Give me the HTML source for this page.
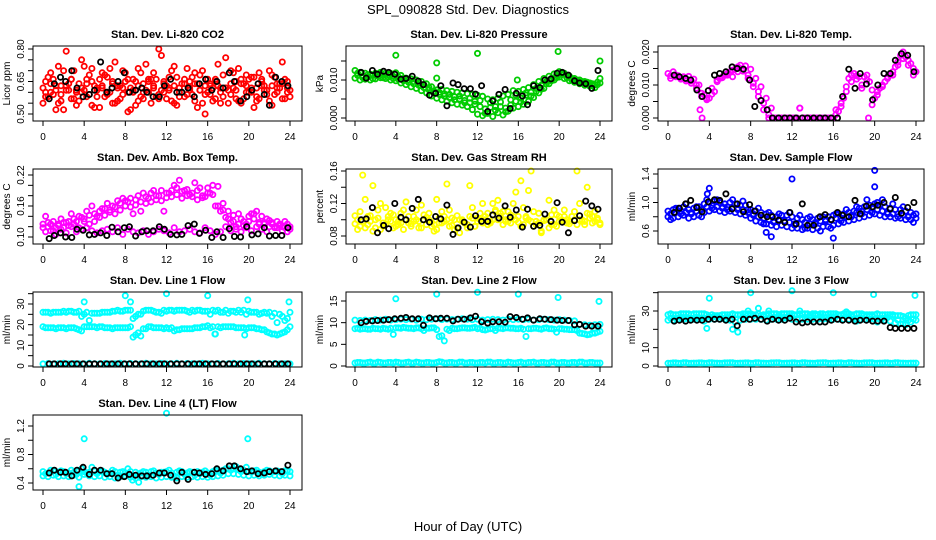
<!DOCTYPE html>
<html><head><meta charset="utf-8"><style>
html,body{margin:0;padding:0;background:#fff;}
svg{display:block;font-family:"Liberation Sans",Arial,sans-serif;}
</style></head><body>
<svg id="chart" width="936" height="540" viewBox="0 0 936 540">
<text x="468" y="14" text-anchor="middle" font-size="13">SPL_090828  Std. Dev. Diagnostics</text>
<text x="468" y="531" text-anchor="middle" font-size="13">Hour of Day (UTC)</text>
</svg>
<script>
const hA=[0,0.5,1,1.5,2,2.5,3,3.5,4,4.5,5,5.5,6,6.5,7,7.5,8,8.5,9,9.5,10,10.5,11,11.5,12,12.5,13,13.5,14,14.5,15,15.5,16,16.5,17,17.5,18,18.5,19,19.5,20,20.5,21,21.5,22,22.5,23,23.5,24];
const hB=[0.25,0.75,1.25,1.75,2.25,2.75,3.25,3.75,4.25,4.75,5.25,5.75,6.25,6.75,7.25,7.75,8.25,8.75,9.25,9.75,10.25,10.75,11.25,11.75,12.25,12.75,13.25,13.75,14.25,14.75,15.25,15.75,16.25,16.75,17.25,17.75,18.25,18.75,19.25,19.75,20.25,20.75,21.25,21.75,22.25,22.75,23.25,23.75];
const hK=[0.6,1.1,1.7,2.2,2.8,3.3,3.9,4.5,5.0,5.6,6.2,6.7,7.3,7.9,8.4,9.0,9.6,10.1,10.7,11.3,11.8,12.4,13.0,13.5,14.1,14.7,15.2,15.8,16.4,16.9,17.5,18.1,18.6,19.2,19.8,20.3,20.9,21.5,22.0,22.6,23.2,23.8];

const co2R1=[0.62,0.58,0.66,0.55,0.70,0.61,0.57,0.64,0.72,0.59,0.63,0.53,0.68,0.60,0.74,0.57,0.65,0.62,0.54,0.69,0.61,0.66,0.58,0.77,0.63,0.56,0.67,0.60,0.71,0.59,0.64,0.55,0.66,0.62,0.73,0.58,0.61,0.69,0.56,0.64,0.60,0.67,0.57,0.63,0.70,0.59,0.62,0.66,0.58];
const co2R2=[0.55,0.67,0.59,0.72,0.52,0.64,0.70,0.56,0.61,0.68,0.53,0.66,0.58,0.71,0.55,0.63,0.69,0.52,0.65,0.58,0.73,0.55,0.66,0.61,0.57,0.70,0.54,0.64,0.59,0.67,0.53,0.70,0.60,0.56,0.63,0.68,0.55,0.62,0.71,0.57,0.66,0.53,0.69,0.61,0.56,0.67,0.64,0.57,0.61];
const co2R3=[0.65,0.60,0.52,0.63,0.79,0.57,0.61,0.75,0.66,0.54,0.62,0.69,0.59,0.65,0.56,0.62,0.51,0.60,0.71,0.57,0.66,0.63,0.80,0.60,0.67,0.55,0.62,0.58,0.65,0.69,0.61,0.50,0.64,0.57,0.62,0.76,0.59,0.65,0.55,0.68,0.62,0.58,0.66,0.61,0.54,0.64,0.74,0.60];
const co2R4=[0.58,0.69,0.63,0.56,0.61,0.66,0.54,0.60,0.64,0.71,0.58,0.62,0.67,0.55,0.63,0.70,0.60,0.66,0.56,0.64,0.60,0.69,0.57,0.65,0.62,0.72,0.58,0.64,0.61,0.56,0.68,0.63,0.59,0.66,0.55,0.62,0.70,0.57,0.64,0.60,0.67,0.56,0.63,0.59,0.68,0.62,0.57,0.65];
const co2R5=[0.60,0.64,0.61,0.59,0.63,0.66,0.60,0.62,0.58,0.65,0.61,0.63,0.60,0.64,0.62,0.59,0.66,0.61,0.63,0.60,0.65,0.62,0.59,0.64,0.61,0.63,0.60,0.66,0.62,0.64,0.61,0.59,0.63,0.65,0.60,0.62,0.64,0.61,0.66,0.63,0.60,0.62,0.65,0.61,0.63,0.60,0.64,0.62];
const co2K=[0.57,0.64,0.67,0.65,0.70,0.62,0.58,0.59,0.61,0.74,0.60,0.62,0.65,0.69,0.60,0.61,0.62,0.60,0.58,0.58,0.63,0.66,0.60,0.60,0.62,0.58,0.64,0.66,0.61,0.65,0.62,0.69,0.65,0.56,0.58,0.61,0.64,0.59,0.54,0.67,0.65,0.63];

const prG1=[0.0125,0.012,0.0118,0.0115,0.0118,0.012,0.0118,0.0117,0.0119,0.0112,0.0105,0.0103,0.0100,0.0096,0.0090,0.0082,0.0074,0.0075,0.0072,0.0070,0.0068,0.0066,0.0064,0.0062,0.0060,0.0057,0.0050,0.0048,0.0052,0.0058,0.0062,0.0072,0.0070,0.0075,0.0080,0.0088,0.0096,0.0104,0.0110,0.0116,0.0122,0.0118,0.0110,0.0104,0.0100,0.0096,0.0092,0.0088,0.0104];
const prG2=[0.0105,0.0100,0.0102,0.0100,0.0103,0.0106,0.0104,0.0100,0.0098,0.0092,0.0088,0.0082,0.0078,0.0072,0.0066,0.0058,0.0052,0.0048,0.0044,0.0040,0.0036,0.0034,0.0030,0.0022,0.0010,0.0006,0.0012,0.0004,0.0014,0.0008,0.0018,0.0026,0.0030,0.0036,0.0044,0.0054,0.0066,0.0078,0.0090,0.0100,0.0108,0.0104,0.0098,0.0094,0.0090,0.0086,0.0084,0.0080,0.0092];
const prG3=[0.0112,0.0110,0.0108,0.0112,0.0110,0.0112,0.0108,0.0110,0.0102,0.0098,0.0094,0.0090,0.0086,0.0080,0.0074,0.0066,0.0062,0.0058,0.0054,0.0056,0.0050,0.0046,0.0040,0.0036,0.0030,0.0024,0.0028,0.0020,0.0030,0.0026,0.0034,0.0044,0.0052,0.0060,0.0068,0.0078,0.0086,0.0096,0.0104,0.0112,0.0114,0.0106,0.0100,0.0096,0.0092,0.0090,0.0086,0.0094];
const prG4=[0.0118,0.0106,0.0114,0.0104,0.0116,0.0106,0.0114,0.0104,0.0108,0.0104,0.0100,0.0096,0.0092,0.0088,0.0080,0.0070,0.0068,0.0064,0.0062,0.0048,0.0058,0.0040,0.0052,0.0044,0.0046,0.0012,0.0040,0.0030,0.0042,0.0016,0.0048,0.0060,0.0042,0.0066,0.0058,0.0070,0.0076,0.0090,0.0098,0.0106,0.0118,0.0112,0.0104,0.0100,0.0096,0.0094,0.0090,0.0088];
const prOutX=[4.0,8.0,12.0,19.9,24.0,8.0,15.9];
const prOutY=[0.0165,0.0145,0.0170,0.0175,0.0150,0.0105,0.0100];
const prK=[0.0120,0.0105,0.0125,0.0115,0.0123,0.0120,0.0115,0.0102,0.0104,0.0110,0.0097,0.0088,0.0060,0.0065,0.0085,0.0032,0.0092,0.0088,0.0077,0.0077,0.0063,0.0085,0.0017,0.0045,0.0062,0.0075,0.0025,0.0065,0.0058,0.0035,0.0085,0.0080,0.0100,0.0103,0.0118,0.0120,0.0113,0.0098,0.0092,0.0090,0.0078,0.0125];

const tmM1=[0.0135,0.0140,0.0128,0.0125,0.0126,0.0118,0.0100,0.0070,0.0060,0.0080,0.0120,0.0130,0.0140,0.0148,0.0160,0.0158,0.0148,0.0120,0.0095,0.0060,0.0030,0,0,0,0,0,0,0,0,0,0,0,0,0.0020,0.0060,0.0120,0.0135,0.0125,0.0125,0.0110,0.0060,0.0090,0.0110,0.0130,0.0155,0.0190,0.0185,0.0165,0.0140];
const tmM2=[0.0128,0.0125,0.0120,0.0118,0.0112,0.0100,0.0075,0.0055,0.0072,0.0110,0.0125,0.0135,0.0145,0.0155,0.0150,0.0130,0.0105,0.0080,0.0045,0,0,0,0,0,0,0.0030,0,0,0,0,0,0,0.0025,0.0045,0.0095,0.0130,0.0128,0.0100,0.0130,0.0085,0.0070,0.0100,0.0120,0.0140,0.0170,0.0200,0.0175,0.0150];
const tmM3=[0.0120,0.0130,0.0118,0.0112,0.0105,0.0090,0.0065,0.0060,0.0090,0.0115,0.0122,0.0130,0.0125,0.0140,0.0142,0.0120,0.0095,0.0065,0.0025,0.0010,0,0,0,0,0,0.0030,0,0,0,0,0,0,0.0010,0.0035,0.0080,0.0110,0.0118,0.0090,0.0115,0.0040,0.0080,0.0095,0.0125,0.0130,0.0160,0.0180,0.0160,0.0130];
const tmOutX=[3.3,19.4,3.1];
const tmOutY=[0,0,0.0025];
const tmK=[0.0130,0.0125,0.0120,0.0115,0.0085,0.0065,0.0083,0.0130,0.0135,0.0140,0.0155,0.0150,0.0148,0.0115,0.0035,0.0053,0.0025,0,0,0,0,0,0,0,0,0,0,0,0,0.0065,0.0148,0.0090,0.0135,0.0103,0.0055,0.0100,0.0135,0.0135,0.0175,0.0195,0.0190,0.0140];

const abM1=[0.125,0.120,0.130,0.122,0.128,0.130,0.135,0.140,0.130,0.142,0.145,0.150,0.155,0.152,0.158,0.165,0.170,0.175,0.172,0.168,0.178,0.185,0.180,0.190,0.185,0.190,0.195,0.188,0.192,0.185,0.190,0.180,0.195,0.200,0.198,0.165,0.150,0.142,0.145,0.130,0.140,0.145,0.128,0.125,0.132,0.120,0.125,0.118,0.115];
const abM2=[0.110,0.112,0.105,0.115,0.108,0.120,0.110,0.115,0.118,0.112,0.108,0.112,0.115,0.110,0.118,0.105,0.115,0.110,0.108,0.112,0.105,0.110,0.115,0.112,0.108,0.118,0.110,0.112,0.115,0.110,0.108,0.118,0.112,0.105,0.110,0.120,0.112,0.115,0.110,0.118,0.112,0.120,0.115,0.110,0.125,0.118,0.112,0.110];
const abM3=[0.140,0.125,0.118,0.135,0.128,0.145,0.130,0.138,0.150,0.160,0.140,0.155,0.165,0.160,0.170,0.175,0.168,0.145,0.180,0.185,0.175,0.190,0.180,0.150,0.185,0.200,0.210,0.190,0.182,0.205,0.195,0.178,0.185,0.160,0.150,0.138,0.128,0.120,0.135,0.125,0.145,0.150,0.140,0.135,0.128,0.130,0.120,0.125];
const abM4=[0.118,0.128,0.112,0.125,0.118,0.122,0.125,0.118,0.135,0.125,0.130,0.138,0.142,0.148,0.145,0.152,0.160,0.158,0.162,0.150,0.165,0.168,0.172,0.170,0.176,0.178,0.182,0.175,0.180,0.178,0.172,0.176,0.185,0.182,0.160,0.152,0.135,0.130,0.125,0.122,0.130,0.135,0.125,0.128,0.120,0.118,0.122,0.130,0.120];
const abK=[0.097,0.103,0.108,0.100,0.099,0.115,0.113,0.104,0.105,0.108,0.103,0.119,0.110,0.118,0.120,0.102,0.110,0.112,0.112,0.120,0.115,0.105,0.104,0.105,0.122,0.125,0.107,0.113,0.099,0.110,0.099,0.116,0.101,0.100,0.120,0.104,0.106,0.118,0.102,0.103,0.103,0.118];

const rhY1=[0.095,0.110,0.090,0.105,0.100,0.088,0.115,0.098,0.092,0.108,0.100,0.095,0.112,0.090,0.103,0.097,0.088,0.110,0.100,0.093,0.105,0.098,0.090,0.115,0.102,0.096,0.108,0.120,0.100,0.094,0.110,0.104,0.097,0.115,0.100,0.092,0.108,0.099,0.090,0.112,0.098,0.104,0.095,0.110,0.100,0.094,0.107,0.098,0.096];
const rhY2=[0.105,0.092,0.125,0.098,0.090,0.120,0.094,0.108,0.100,0.096,0.122,0.092,0.100,0.118,0.094,0.092,0.125,0.096,0.144,0.102,0.090,0.100,0.094,0.102,0.098,0.120,0.094,0.100,0.124,0.110,0.098,0.120,0.104,0.094,0.136,0.110,0.096,0.100,0.124,0.094,0.104,0.112,0.098,0.100,0.120,0.098,0.102,0.110,0.094];
const rhY3=[0.100,0.155,0.094,0.142,0.102,0.096,0.104,0.090,0.098,0.112,0.096,0.104,0.098,0.100,0.108,0.094,0.102,0.098,0.112,0.088,0.100,0.096,0.142,0.092,0.100,0.104,0.098,0.112,0.108,0.100,0.096,0.134,0.148,0.102,0.160,0.098,0.086,0.100,0.094,0.106,0.098,0.100,0.104,0.160,0.098,0.140,0.104,0.100];
const rhY4=[0.088,0.098,0.104,0.086,0.112,0.092,0.100,0.106,0.094,0.088,0.104,0.098,0.090,0.106,0.100,0.086,0.096,0.104,0.092,0.100,0.084,0.096,0.104,0.092,0.108,0.100,0.096,0.110,0.104,0.098,0.106,0.100,0.092,0.104,0.098,0.094,0.084,0.100,0.106,0.092,0.100,0.096,0.104,0.094,0.100,0.108,0.096,0.102];
const rhK=[0.100,0.101,0.115,0.084,0.093,0.089,0.120,0.103,0.100,0.114,0.125,0.100,0.097,0.104,0.101,0.118,0.082,0.090,0.097,0.091,0.105,0.098,0.098,0.106,0.102,0.117,0.103,0.112,0.091,0.113,0.092,0.093,0.107,0.098,0.121,0.097,0.084,0.099,0.105,0.123,0.117,0.113];

const sfB1=[0.88,0.90,0.92,0.94,0.90,0.92,0.94,0.98,1.00,1.02,1.00,0.98,1.00,0.98,0.96,0.96,0.90,0.88,0.86,0.84,0.82,0.80,0.82,0.82,0.80,0.78,0.76,0.78,0.76,0.78,0.80,0.80,0.82,0.84,0.84,0.86,0.88,0.92,0.94,0.96,0.98,0.96,0.94,0.92,0.90,0.90,0.88,0.86,0.84];
const sfB2=[0.80,0.78,0.80,0.82,0.78,0.80,0.82,0.86,0.88,0.90,0.88,0.86,0.88,0.86,0.84,0.82,0.78,0.74,0.72,0.70,0.68,0.66,0.68,0.66,0.64,0.64,0.62,0.64,0.62,0.64,0.66,0.66,0.68,0.70,0.72,0.74,0.76,0.78,0.80,0.82,0.84,0.82,0.80,0.80,0.78,0.78,0.76,0.76,0.78];
const sfB3=[0.84,0.86,0.88,0.86,0.84,0.88,0.90,0.94,0.96,0.94,0.92,0.94,0.92,0.90,0.90,0.86,0.82,0.80,0.78,0.76,0.74,0.76,0.74,0.72,0.70,0.70,0.72,0.70,0.72,0.74,0.74,0.76,0.78,0.78,0.80,0.82,0.86,0.88,0.90,0.92,0.90,0.88,0.86,0.84,0.84,0.82,0.80,0.82];
const sfB4=[0.76,0.92,0.84,0.98,0.86,0.94,0.80,1.04,0.92,1.04,0.94,0.90,1.04,0.92,1.02,0.90,0.84,0.92,0.70,0.86,0.72,0.84,0.74,0.86,0.68,0.82,0.64,0.80,0.70,0.60,0.76,0.64,0.84,0.74,0.90,0.80,0.94,0.84,1.04,0.86,1.00,1.04,0.84,0.98,0.80,0.94,0.80,0.72];
const sfOutX=[12.0,20.0,20.0,4.0,16.0,10.0,9.5,3.8];
const sfOutY=[1.33,1.45,1.22,1.20,0.50,0.52,0.58,1.12];
const sfK=[0.86,0.92,0.98,1.03,0.93,0.87,1.01,1.04,1.03,1.12,0.91,0.98,0.87,0.97,0.88,0.82,0.80,0.80,0.75,0.72,0.86,0.70,0.98,0.68,0.68,0.80,0.83,0.76,0.86,0.82,0.80,1.03,0.84,0.95,0.94,0.96,1.00,0.91,1.07,0.85,0.93,1.00];

const l1UpA=[26,26,26,26,26.5,26.5,26,26.5,25,22,25.5,25.5,26,26,26.5,26.5,27,27,24,25,27,27,26,25.5,26.5,27,27,27,26.5,27,27,26.5,26.5,27,27,26,25.5,26.5,27,27,26.5,26,25,26,26,25.5,25,22,26];
const l1UpB=[26,25.5,26,26,26,26.5,26,24,26,25.5,25.5,26,26,26.5,27,26.5,27,23,25,26.5,27,26.5,26,27,27,26.5,27,27,26,26.5,27,26.5,25,26.5,26,27,26.5,26,26,25,26,26,25.5,25.5,24,21,24,23];
const l1LoA=[19,18.5,18.5,18.5,18.5,18.5,18.5,17.5,19,19,19,19,18.5,18.5,18.5,18.5,18.5,19,15,14.5,18,19,18.5,18.5,18.5,18.5,17.5,18,18,18,18.5,19,19.5,19,19,19,19,19,18.5,18.5,18.5,18.5,18,17.5,16,15.5,15.5,16.5,19];
const l1LoB=[18.5,18.5,18,18.5,18,18.5,18,17,19,19,18.5,19,18.5,18,18.5,18.5,18.5,14,16,18,19,18.5,18.5,18,18,17,17.5,18,18,18.5,18.5,19,18.5,15.5,18.5,19,19,18.5,18.5,18,18.5,18,17.5,16.5,15.5,15,16,17.5];
const l1BotA=[1.0,1.2,1.0,1.1,1.3,1.0,1.2,1.1,1.0,1.3,1.1,1.0,1.2,1.0,1.1,1.3,1.0,1.2,1.1,1.0,1.3,1.1,1.0,1.2,1.0,1.1,1.3,1.0,1.2,1.1,1.0,1.3,1.1,1.0,1.2,1.0,1.1,1.3,1.0,1.2,1.1,1.0,1.3,1.1,1.0,1.2,1.0,1.1,1.0];
const l1OutX=[4.0,8.0,8.5,12.0,16.0,19.9,23.9,19.6,16.7];
const l1OutY=[31,34,31,35,34,32,31,15,15.5];
const l1K=[1,1,1,1,1,1,1,1,1,1,1,1,1,1,1,1,1,1,1,1,1,1,1,1,1,1,1,1,1,1,1,1,1,1,1,1,1,1,1,1,1,1];

const l2UpA=[10.6,10.5,10.6,10.5,10.7,10.6,10.8,10.6,10.7,10.8,10.7,10.8,10.6,10.8,10.7,10.8,10.9,10.7,10.8,10.7,10.8,10.9,10.8,10.7,10.8,10.6,10.7,10.8,10.7,10.6,10.8,10.7,10.8,10.7,10.8,10.6,10.7,10.8,10.7,10.6,10.7,10.6,10.5,10.4,9.6,9.5,9.4,9.5,9.6];
const l2LoA=[8.6,8.5,8.6,8.5,8.6,8.5,8.6,8.7,8.8,8.7,8.8,8.7,8.8,8.6,8.7,8.8,8.4,7.0,8.5,8.7,8.6,8.8,8.7,8.8,8.6,8.4,8.5,8.6,8.7,8.6,8.8,8.7,8.6,8.5,8.6,8.7,8.6,8.7,8.6,8.5,8.6,8.5,8.4,8.4,7.6,7.4,7.3,7.6,8.0];
const l2LoB=[8.7,8.6,8.5,8.7,8.6,8.7,8.5,7.3,8.8,8.9,8.7,8.6,8.8,8.2,8.7,8.8,6.8,5.8,8.2,8.6,8.7,8.8,8.7,8.9,8.7,8.3,8.6,8.2,8.7,8.8,8.7,8.6,8.7,6.8,8.6,8.7,8.5,8.8,8.6,7.8,8.6,8.5,8.4,8.2,7.5,7.2,7.6,7.8];
const l2BotA=[0.7,0.8,0.7,0.9,0.7,0.8,0.7,0.8,0.9,0.7,0.8,0.7,0.9,0.7,0.8,0.7,0.8,0.9,0.7,0.8,0.7,0.9,0.7,0.8,0.7,0.8,0.9,0.7,0.8,0.7,0.9,0.7,0.8,0.7,0.8,0.9,0.7,0.8,0.7,0.9,0.7,0.8,0.7,0.8,0.9,0.7,0.8,0.7,0.7];
const l2BotB=[0.8,0.7,0.8,0.7,0.9,0.7,0.8,0.7,0.8,0.7,0.9,0.7,0.8,0.7,0.8,0.7,1.0,0.7,0.8,0.7,0.9,0.7,0.8,0.7,0.8,0.7,0.9,0.7,0.8,0.7,0.8,0.7,0.9,0.7,0.8,0.7,0.8,0.7,0.9,0.7,0.8,0.7,0.8,0.7,0.9,0.7,0.8,0.7];
const l2OutX=[4.0,8.0,12.0,16.0,19.9,23.9];
const l2OutY=[15.5,16.6,17.0,16.6,15.8,14.9];
const l2K=[10.0,10.3,10.4,10.5,10.6,10.7,10.9,11.0,11.2,10.9,10.9,9.4,11.1,10.9,11.0,11.0,10.4,10.8,10.8,11.1,11.5,10.2,9.9,10.2,10.2,10.1,11.4,11.2,10.8,11.1,10.6,10.9,10.8,10.7,10.6,10.5,10.5,9.5,9.6,9.2,9.2,9.2];

const l3UpA=[28,28,28,28.5,28.5,28.5,28.5,28.5,27,27.5,27.5,28,28,28,28,28.5,28.5,28,27.5,28,28.5,28.5,28.5,28.5,28.5,28,28.5,28.5,28.5,28,28.5,28.5,28.5,28,28.5,28.5,28,28.5,28,28,28,28,28,28,27.5,27.5,26,28,28];
const l3UpB=[28.5,28,28.5,28.5,28,28.5,28.5,28,28,27.5,28,28,28.5,28,28.5,28.5,28,28.5,28,28.5,28.5,28,28.5,28.5,28,28.5,28.5,28,28.5,28.5,28,28.5,28.5,28,28.5,28,28.5,28.5,28,28,28.5,28,28,28,27.5,27,27.5,28];
const l3MidA=[25,25,25.5,25.5,25.5,25.5,25.5,24.5,25.5,25.5,25.5,25.5,25,24,25,25.5,25.5,25.5,25.5,25,25.5,25.5,25.5,26,25.5,25.5,25.5,25.5,25.5,25.5,25.5,25.5,25.5,25.5,25.5,25.5,25.5,25,25.5,25.5,25.5,25.5,25,24.5,23.5,23,22.5,24,25];
const l3MidB=[26,26,26.5,26.5,26,26.5,26,20.5,26.5,26.5,26,26.5,20,18.5,27,30,27.5,31.5,27,30,26.5,27,26.5,27,27.5,30,26.5,27,27.5,27,26.5,27,27,27.5,29.5,27,24.5,27.5,27,27,24,26,26.5,27,25,23,25,25.5];
const l3BotA=[1.5,1.7,1.5,1.8,1.5,1.6,1.7,1.5,1.8,1.6,1.5,1.7,1.8,1.5,1.6,1.7,1.5,1.8,1.6,1.5,1.7,1.8,1.5,1.6,1.7,1.5,1.8,1.6,1.5,1.7,1.8,1.5,1.6,1.7,1.5,1.8,1.6,1.5,1.7,1.8,1.5,1.6,1.7,1.5,1.8,1.6,1.5,1.6,1.6];
const l3OutX=[4.0,8.0,12.0,16.0,19.9,23.9];
const l3OutY=[37,40,41,40,39,38.5];
const l3K=[24.5,25,24.5,25,25,25,25.5,25.5,25.5,25,25.5,22,25.5,25.5,26,25.5,24.5,25.5,25,25,26,24,23.5,24,24,24,24,25,25.5,25,25,24.5,25,25,24.5,24.5,24.5,21,20.5,20.5,20.5,20.5];

const l4C1=[0.56,0.54,0.57,0.55,0.56,0.54,0.55,0.57,0.56,0.55,0.57,0.56,0.55,0.54,0.56,0.55,0.54,0.56,0.55,0.54,0.55,0.56,0.54,0.55,0.56,0.54,0.55,0.56,0.54,0.55,0.56,0.55,0.54,0.56,0.57,0.58,0.60,0.60,0.59,0.58,0.56,0.57,0.55,0.56,0.57,0.56,0.56,0.57,0.56];
const l4C2=[0.50,0.49,0.51,0.49,0.50,0.49,0.51,0.48,0.52,0.50,0.49,0.50,0.48,0.49,0.47,0.49,0.50,0.48,0.47,0.49,0.48,0.49,0.47,0.48,0.49,0.48,0.47,0.49,0.48,0.49,0.48,0.49,0.48,0.49,0.50,0.51,0.53,0.53,0.52,0.51,0.50,0.51,0.50,0.51,0.52,0.51,0.50,0.51,0.50];
const l4C3=[0.53,0.58,0.52,0.57,0.53,0.58,0.52,0.60,0.54,0.62,0.53,0.57,0.52,0.58,0.51,0.56,0.60,0.50,0.52,0.56,0.51,0.57,0.52,0.55,0.58,0.50,0.57,0.52,0.56,0.51,0.53,0.57,0.51,0.58,0.54,0.60,0.58,0.63,0.56,0.62,0.55,0.58,0.53,0.58,0.55,0.57,0.53,0.58];
const l4OutX=[4.0,12.0,19.9,3.5,9.3,8.7];
const l4OutY=[1.02,1.38,1.02,0.35,0.41,0.44];
const l4K=[0.54,0.58,0.55,0.55,0.50,0.58,0.62,0.52,0.58,0.58,0.53,0.53,0.47,0.49,0.52,0.51,0.50,0.50,0.51,0.54,0.54,0.51,0.43,0.55,0.45,0.55,0.54,0.52,0.53,0.60,0.57,0.64,0.64,0.60,0.56,0.57,0.53,0.54,0.56,0.57,0.56,0.65];

const RED='#ff0000',GRN='#00cc00',MAG='#ff00ff',YEL='#ffff00',BLU='#0000ff',CYN='#00ffff',BLK='#000000';
const colL=[33,346,658],colR=[302,612,924],colX0=[43,355,668],colX24=[290,600,916];
const rowT=[46,169,292,415],rowB=[121,244,367,490];

const panels=[
 {id:'co2',title:'Stan. Dev. Li-820 CO2',yl:'Licor ppm',c:0,r:0,v0:0.50,p0:114,v1:0.80,p1:49,ticks:[0.50,0.55,0.60,0.65,0.70,0.75,0.80],labels:['0.50','0.65','0.80'],lv:[0.50,0.65,0.80],
  series:[[hA,co2R1,RED],[hA,co2R2,RED],[hB,co2R3,RED],[hB,co2R4,RED],[hB,co2R5,RED],[hK,co2K,BLK]]},
 {id:'pressure',title:'Stan. Dev. Li-820 Pressure',yl:'kPa',c:1,r:0,v0:0,p0:118,v1:0.010,p1:80,ticks:[0,0.005,0.010,0.015],labels:['0.000','0.010'],lv:[0,0.010],
  series:[[hA,prG1,GRN],[hA,prG2,GRN],[hB,prG3,GRN],[hB,prG4,GRN],[prOutX,prOutY,GRN],[hK,prK,BLK]]},
 {id:'licor-temp',title:'Stan. Dev. Li-820 Temp.',yl:'degrees C',c:2,r:0,v0:0,p0:118,v1:0.020,p1:52,ticks:[0,0.005,0.010,0.015,0.020],labels:['0.000','0.010','0.020'],lv:[0,0.010,0.020],
  series:[[hA,tmM1,MAG],[hB,tmM2,MAG],[hB,tmM3,MAG],[tmOutX,tmOutY,MAG],[hK,tmK,BLK]]},
 {id:'amb-box-temp',title:'Stan. Dev. Amb. Box Temp.',yl:'degrees C',c:0,r:1,v0:0.10,p0:237,v1:0.22,p1:175,ticks:[0.10,0.12,0.14,0.16,0.18,0.20,0.22],labels:['0.10','0.16','0.22'],lv:[0.10,0.16,0.22],
  series:[[hA,abM1,MAG],[hB,abM2,MAG],[hB,abM3,MAG],[hA,abM4,MAG],[hK,abK,BLK]]},
 {id:'gas-rh',title:'Stan. Dev. Gas Stream RH',yl:'percent',c:1,r:1,v0:0.08,p0:236,v1:0.16,p1:171,ticks:[0.08,0.10,0.12,0.14,0.16],labels:['0.08','0.12','0.16'],lv:[0.08,0.12,0.16],
  series:[[hA,rhY1,YEL],[hA,rhY2,YEL],[hB,rhY3,YEL],[hB,rhY4,YEL],[hK,rhK,BLK]]},
 {id:'sample-flow',title:'Stan. Dev. Sample Flow',yl:'ml/min',c:2,r:1,v0:0.6,p0:231,v1:1.4,p1:174,ticks:[0.6,0.8,1.0,1.2,1.4],labels:['0.6','1.0','1.4'],lv:[0.6,1.0,1.4],
  series:[[hA,sfB1,BLU],[hA,sfB2,BLU],[hB,sfB3,BLU],[hB,sfB4,BLU],[sfOutX,sfOutY,BLU],[hK,sfK,BLK]]},
 {id:'line1-flow',title:'Stan. Dev. Line 1 Flow',yl:'ml/min',c:0,r:2,v0:0,p0:366,v1:30,p1:304,ticks:[0,5,10,15,20,25,30,35],labels:['0','10','20','30'],lv:[0,10,20,30],
  series:[[hA,l1UpA,CYN],[hB,l1UpB,CYN],[hA,l1LoA,CYN],[hB,l1LoB,CYN],[hA,l1BotA,CYN],[l1OutX,l1OutY,CYN],[hK,l1K,BLK]]},
 {id:'line2-flow',title:'Stan. Dev. Line 2 Flow',yl:'ml/min',c:1,r:2,v0:0,p0:366,v1:15,p1:301,ticks:[0,5,10,15],labels:['0','5','10','15'],lv:[0,5,10,15],
  series:[[hA,l2UpA,CYN],[hA,l2LoA,CYN],[hB,l2LoB,CYN],[hA,l2BotA,CYN],[hB,l2BotB,CYN],[l2OutX,l2OutY,CYN],[hK,l2K,BLK]]},
 {id:'line3-flow',title:'Stan. Dev. Line 3 Flow',yl:'ml/min',c:2,r:2,v0:0,p0:366,v1:30,p1:311,ticks:[0,10,20,30,40],labels:['0','10','30'],lv:[0,10,30],
  series:[[hA,l3UpA,CYN],[hB,l3UpB,CYN],[hA,l3MidA,CYN],[hB,l3MidB,CYN],[hA,l3BotA,CYN],[hB,l3BotA,CYN],[l3OutX,l3OutY,CYN],[hK,l3K,BLK]]},
 {id:'line4-flow',title:'Stan. Dev. Line 4 (LT) Flow',yl:'ml/min',c:0,r:3,v0:0.4,p0:483,v1:1.2,p1:426,ticks:[0.4,0.6,0.8,1.0,1.2],labels:['0.4','0.8','1.2'],lv:[0.4,0.8,1.2],
  series:[[hA,l4C1,CYN],[hA,l4C2,CYN],[hB,l4C3,CYN],[l4OutX,l4OutY,CYN],[hK,l4K,BLK]]}
];
const xTicks=[0,4,8,12,16,20,24];
const NS='http://www.w3.org/2000/svg';
const svg=document.getElementById('chart');
function mk(tag,attrs,parent){const e=document.createElementNS(NS,tag);for(const k in attrs)e.setAttribute(k,attrs[k]);(parent||svg).appendChild(e);return e;}

panels.forEach(p=>{
  const L=colL[p.c],R=colR[p.c],T=rowT[p.r],B=rowB[p.r];
  const xs=h=>colX0[p.c]+(colX24[p.c]-colX0[p.c])*h/24;
  const ys=v=>p.p0+(p.p1-p.p0)*(v-p.v0)/(p.v1-p.v0);
  const g=mk('g',{});
  
  
  const t=mk('text',{x:(L+R)/2,y:T-8,'text-anchor':'middle','font-size':'11','font-weight':'bold'},g);
  t.textContent=p.title;
  
  
  const pts=mk('g',{fill:'none','stroke-width':'1.8'},g);
  
  
  p.series.forEach(s=>{
    const X=s[0],Y=s[1],n=Math.min(X.length,Y.length);
    for(let i=0;i<n;i++){
      const c=mk('circle',{cx:xs(X[i]).toFixed(1),cy:ys(Y[i]).toFixed(1),r:'2.6',stroke:s[2]},pts);
      
      
    }
  });
  const box=mk('rect',{x:L,y:T,width:R-L,height:B-T,fill:'none',stroke:'#000','stroke-width':'1'},g);
  
  
  const ax=mk('g',{stroke:'#000','stroke-width':'1'},g);
  
  
  xTicks.forEach(h=>{
    mk('line',{x1:xs(h),x2:xs(h),y1:B,y2:B+5},ax);
    const tl=mk('text',{x:xs(h),y:B+19,'text-anchor':'middle','font-size':'10',stroke:'none'},g);
    tl.textContent=h;
    
    
  });
  p.ticks.forEach(v=>{mk('line',{x1:L-5,x2:L,y1:ys(v),y2:ys(v)},ax);});
  p.lv.forEach((v,i)=>{
    const yy=ys(v);
    const tl=mk('text',{x:L-9,y:yy,'text-anchor':'middle','font-size':'10',transform:`rotate(-90 ${L-9} ${yy})`},g);
    tl.textContent=p.labels[i];
    
    
  });
  const yc=(T+B)/2,yx=L-23;
  const yt=mk('text',{x:yx,y:yc,'text-anchor':'middle','font-size':'10',transform:`rotate(-90 ${yx} ${yc})`},g);
  yt.textContent=p.yl;
  
  
});
</script>
</body></html>
